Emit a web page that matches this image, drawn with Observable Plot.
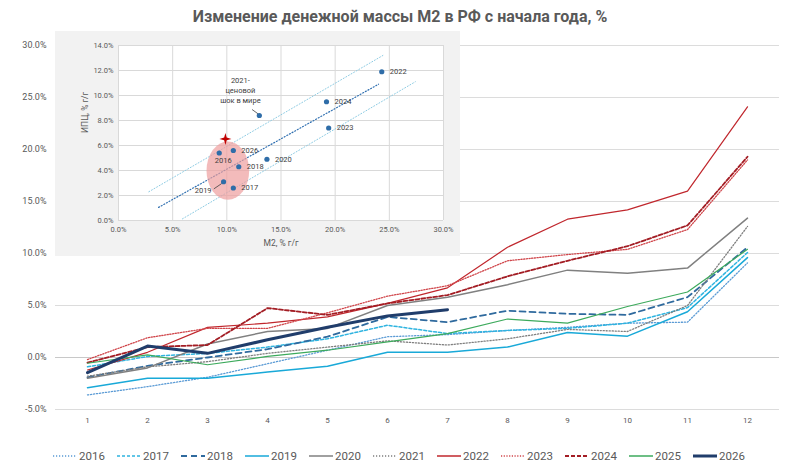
<!DOCTYPE html>
<html><head><meta charset="utf-8">
<script src="https://cdn.jsdelivr.net/npm/d3@7"></script>
<script src="https://cdn.jsdelivr.net/npm/@observablehq/plot@0.6"></script>
<style>
body{margin:0;background:#fff;font-family:Roboto,"Open Sans",sans-serif;}
#wrap{position:relative;width:800px;height:475px;overflow:hidden;background:#fff;}
#title{position:absolute;top:0;left:0;width:800px;height:30px;line-height:34px;text-align:center;font-weight:bold;font-size:16px;color:#595959;}
#main{position:absolute;top:30px;left:0;}
#inset{position:absolute;top:31px;left:55px;}
#legend{position:absolute;top:447px;left:53px;height:18px;display:flex;align-items:center;}
.item{width:64px;display:flex;align-items:center;font-size:11.5px;color:#595959;}
.item svg{margin-right:2px;}
</style></head>
<body>
<div id="wrap">
  <div id="title">Изменение денежной массы М2 в РФ с начала года, %</div>
  <div id="main"></div>
  <div id="inset"></div>
  <div id="legend"></div>
</div>
<script>
// ---------- main chart data ----------
const months = [1,2,3,4,5,6,7,8,9,10,11,12];
const yTicks = [-5,0,5,10,15,20,25,30];
const years = ["2016","2017","2018","2019","2020","2021","2022","2023","2024","2025","2026"];
const s2016 = [-3.6,-2.8,-1.9,-0.6,0.7,2.0,2.2,2.6,2.9,3.3,3.4,9.1];
const s2017 = [-0.9,0.1,0.4,1.0,1.8,3.1,2.3,2.6,2.8,3.3,4.8,10.1];
const s2018 = [-1.9,-0.8,0.0,0.8,2.0,3.9,3.4,4.5,4.2,4.1,5.8,10.6];
const s2019 = [-2.9,-2.0,-2.0,-1.4,-0.85,0.5,0.5,1.0,2.4,2.05,4.4,9.6];
const s2020 = [-2.0,-1.0,1.3,2.5,2.8,5.0,5.8,7.0,8.4,8.1,8.6,13.4];
const s2021 = [-1.8,-0.9,-0.4,0.4,1.0,1.6,1.2,1.8,2.7,2.5,5.0,12.6];
const s2022 = [-1.2,0.5,2.9,3.3,3.9,5.2,6.7,10.6,13.3,14.2,16.0,24.1];
const s2023 = [-0.2,1.9,2.8,2.8,4.3,5.9,6.9,9.3,9.9,10.4,12.3,19.0];
const s2024 = [-0.5,1.0,1.2,4.75,4.1,5.2,6.0,7.8,9.3,10.7,12.7,19.3];
const s2025 = [-0.55,0.25,-0.7,0.1,0.7,1.5,2.3,3.7,3.3,4.9,6.3,10.4];
const s2026 = [-1.45,1.1,0.4,1.7,2.9,4.0,4.6];
const seriesValues = {"2016":s2016,"2017":s2017,"2018":s2018,"2019":s2019,"2020":s2020,"2021":s2021,"2022":s2022,"2023":s2023,"2024":s2024,"2025":s2025,"2026":s2026};

// ---------- inset data ----------
const insetYears = ["2016","2017","2018","2019","2020","2021","2022","2023","2024","2026"];
const insetM2  = [9.3,10.6,11.1,9.7,13.7,13.0,24.3,19.4,19.2,10.6];
const insetCPI = [5.4,2.6,4.3,3.1,4.9,8.4,11.9,7.4,9.5,5.6];
const insetXTicks = [0,5,10,15,20,25,30];
const insetYTicks = [0,2,4,6,8,10,12,14];
const trendUpper = [[2.8,2.3],[24.4,13.2]];
const trendMid = [[3.7,1.05],[24.0,10.9]];
const trendLower = [[5.9,0.13],[27.4,11.1]];
const starPoint = [{m2:9.87, cpi:6.53}];
const ellipseArea = {cx:10.14, cy:3.95, rx:1.97, ry:2.33};
const leader2021 = [{x1:12.33,y1:8.88,x2:12.92,y2:8.51}];
const leader2019 = [{x1:8.8,y1:2.53,x2:9.53,y2:2.96}];
const note2021 = [{m2:11.25, cpi:10.45, text:"2021-\nценовой\nшок в мире"}];

// ---------- styles (kept apart from data) ----------
const styles = {
  "2016":{stroke:"#5B9BD5", dash:"1.2,1.8", width:1.3},
  "2017":{stroke:"#2FB4E0", dash:"3,2", width:1.5},
  "2018":{stroke:"#2F6A9E", dash:"6,4", width:1.8},
  "2019":{stroke:"#19A9D8", dash:null, width:1.5},
  "2020":{stroke:"#808080", dash:null, width:1.5},
  "2021":{stroke:"#7F7F7F", dash:"1.2,1.8", width:1.3},
  "2022":{stroke:"#C0272D", dash:null, width:1.2},
  "2023":{stroke:"#D0464B", dash:"1.2,1.5", width:1.3},
  "2024":{stroke:"#A31D24", dash:"4,2", width:1.8},
  "2025":{stroke:"#3DAA5C", dash:null, width:1.2},
  "2026":{stroke:"#203D6B", dash:null, width:3}
};
const labelPlacement = {"2016":"below","2019":"belowLeft","2021":"none"};
const font = "Roboto, 'Open Sans', sans-serif";

// ---------- main plot ----------
const rows = years.flatMap(y => seriesValues[y].map((v,i) => ({year:y, month:months[i], value:v})));
const lineMarks = years.map(y => Plot.line(rows.filter(d => d.year === y), {
  x:"month", y:"value", stroke:styles[y].stroke, strokeWidth:styles[y].width,
  strokeDasharray:styles[y].dash, strokeLinejoin:"round"
}));
const main = Plot.plot({
  width:800, height:400, marginLeft:55, marginRight:21, marginTop:15, marginBottom:21,
  style:{fontFamily:font, color:"#595959", background:"transparent", overflow:"visible"},
  x:{type:"point", domain:months, padding:0.5},
  y:{domain:[-5,30]},
  marks:[
    Plot.gridY(yTicks, {stroke:"#DCDCDC", strokeOpacity:1}),
    Plot.ruleY([0], {stroke:"#C8C8C8"}),
    ...lineMarks,
    Plot.axisY(yTicks, {tickSize:0, tickPadding:9, tickFormat:d => d.toFixed(1)+"%", fontSize:9, label:null}),
    Plot.axisX(months, {tickSize:0, tickPadding:8, fontSize:8, label:null})
  ]
});
document.getElementById("main").appendChild(main);

// ---------- inset plot ----------
const insetRows = insetYears.map((y,i) => ({year:y, m2:insetM2[i], cpi:insetCPI[i]}));
const star4 = {draw(context, size){
  const R = Math.sqrt(size/Math.PI), r = R*0.3;
  for (let i = 0; i < 8; i++) {
    const a = i*Math.PI/4 - Math.PI/2, rad = i % 2 ? r : R;
    const px = rad*Math.cos(a), py = rad*Math.sin(a);
    if (i === 0) context.moveTo(px, py); else context.lineTo(px, py);
  }
  context.closePath();
}};
const inset = Plot.plot({
  width:405, height:225, marginLeft:63, marginRight:17, marginTop:14, marginBottom:36,
  style:{fontFamily:font, color:"#595959", background:"#F2F2F2", overflow:"visible"},
  x:{domain:[0,30]}, y:{domain:[0,14]},
  marks:[
    Plot.frame({fill:"white", stroke:"none"}),
    Plot.gridX(insetXTicks, {stroke:"#D9D9D9", strokeOpacity:1}),
    Plot.gridY(insetYTicks, {stroke:"#D9D9D9", strokeOpacity:1}),
    Plot.axisX(insetXTicks, {tickSize:0, tickPadding:6, fontSize:7.5, tickFormat:d => d.toFixed(1)+"%", label:null}),
    Plot.axisY(insetYTicks, {tickSize:0, tickPadding:5, fontSize:7.5, tickFormat:d => d.toFixed(1)+"%", label:null}),
    Plot.text(["M2, % г/г"], {frameAnchor:"bottom", dy:23, lineAnchor:"middle", fontSize:8.5, fill:"#595959"}),
    Plot.text(["ИПЦ, % г/г"], {frameAnchor:"left", dx:-33, rotate:-90, fontSize:8.5, fill:"#595959"}),
    Plot.line(trendUpper, {x:d => d[0], y:d => d[1], stroke:"#8CCBE3", strokeWidth:1, strokeDasharray:"1,2"}),
    Plot.line(trendLower, {x:d => d[0], y:d => d[1], stroke:"#8CCBE3", strokeWidth:1, strokeDasharray:"1,2"}),
    Plot.line(trendMid, {x:d => d[0], y:d => d[1], stroke:"#2F6FB0", strokeWidth:1.2, strokeDasharray:"1,2"}),
    Plot.dot([ellipseArea], {x:"cx", y:"cy", r:0, render(index, scales){
      const cx = scales.x(ellipseArea.cx), cy = scales.y(ellipseArea.cy);
      const rx = Math.abs(scales.x(ellipseArea.cx + ellipseArea.rx) - cx);
      const ry = Math.abs(scales.y(ellipseArea.cy + ellipseArea.ry) - cy);
      const g = d3.create("svg:g");
      g.append("ellipse").attr("cx", cx).attr("cy", cy).attr("rx", rx).attr("ry", ry)
        .attr("fill", "#EE9E9E").attr("fill-opacity", 0.7);
      return g.node();
    }}),
    Plot.link(leader2021, {x1:"x1", y1:"y1", x2:"x2", y2:"y2", stroke:"#404040", strokeWidth:0.8}),
    Plot.link(leader2019, {x1:"x1", y1:"y1", x2:"x2", y2:"y2", stroke:"#404040", strokeWidth:0.8}),
    Plot.dot(insetRows, {x:"m2", y:"cpi", r:2.6, fill:"#2F6DA8"}),
    Plot.dot(starPoint, {x:"m2", y:"cpi", r:6, symbol:star4, fill:"#C00000"}),
    Plot.text(insetRows.filter(d => !labelPlacement[d.year]), {x:"m2", y:"cpi", text:"year", textAnchor:"start", dx:8, fontSize:7.5, fill:"#404040"}),
    Plot.text(insetRows.filter(d => labelPlacement[d.year] === "below"), {x:"m2", y:"cpi", text:"year", textAnchor:"middle", dx:4, dy:8, fontSize:7.5, fill:"#404040"}),
    Plot.text(insetRows.filter(d => labelPlacement[d.year] === "belowLeft"), {x:"m2", y:"cpi", text:"year", textAnchor:"end", dx:-12, dy:9, fontSize:7.5, fill:"#404040"}),
    Plot.text(note2021, {x:"m2", y:"cpi", text:"text", textAnchor:"middle", lineHeight:1.3, fontSize:7.5, fill:"#404040"})
  ]
});
document.getElementById("inset").appendChild(inset);

// ---------- legend ----------
const legend = document.getElementById("legend");
years.forEach(y => {
  const st = styles[y];
  const item = document.createElement("div");
  item.className = "item";
  item.innerHTML = `<svg width="24" height="10"><line x1="0" y1="5" x2="24" y2="5" stroke="${st.stroke}" stroke-width="${Math.max(st.width,1.5)}" ${st.dash ? `stroke-dasharray="${st.dash}"` : ""}/></svg><span>${y}</span>`;
  legend.appendChild(item);
});
</script>
</body></html>
